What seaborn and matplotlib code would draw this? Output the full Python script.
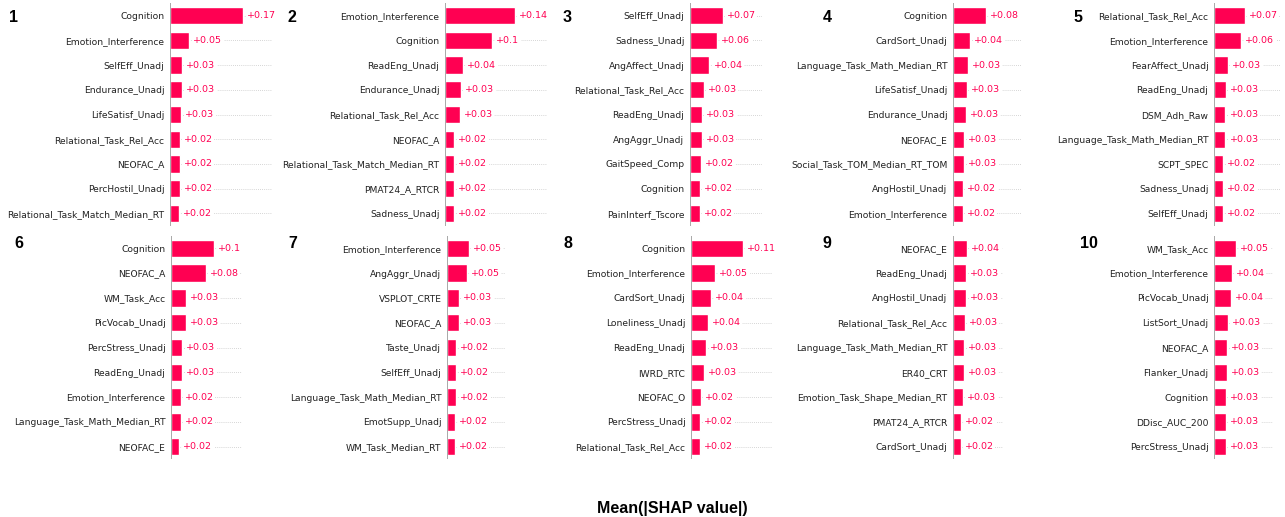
import matplotlib
matplotlib.use("Agg")
import matplotlib.pyplot as plt
import seaborn as sns
import pandas as pd

# Mean |SHAP| feature importances, top nine features per model
features_1 = ["Cognition", "Emotion_Interference", "SelfEff_Unadj", "Endurance_Unadj",
              "LifeSatisf_Unadj", "Relational_Task_Rel_Acc", "NEOFAC_A", "PercHostil_Unadj",
              "Relational_Task_Match_Median_RT"]
values_1 = [0.174, 0.046, 0.029, 0.029, 0.027, 0.024, 0.024, 0.023, 0.022]

features_2 = ["Emotion_Interference", "Cognition", "ReadEng_Unadj", "Endurance_Unadj",
              "Relational_Task_Rel_Acc", "NEOFAC_A", "Relational_Task_Match_Median_RT",
              "PMAT24_A_RTCR", "Sadness_Unadj"]
values_2 = [0.144, 0.098, 0.038, 0.034, 0.030, 0.019, 0.019, 0.019, 0.019]

features_3 = ["SelfEff_Unadj", "Sadness_Unadj", "AngAffect_Unadj", "Relational_Task_Rel_Acc",
              "ReadEng_Unadj", "AngAggr_Unadj", "GaitSpeed_Comp", "Cognition", "PainInterf_Tscore"]
values_3 = [0.072, 0.060, 0.043, 0.030, 0.027, 0.026, 0.024, 0.023, 0.021]

features_4 = ["Cognition", "CardSort_Unadj", "Language_Task_Math_Median_RT", "LifeSatisf_Unadj",
              "Endurance_Unadj", "NEOFAC_E", "Social_Task_TOM_Median_RT_TOM", "AngHostil_Unadj",
              "Emotion_Interference"]
values_4 = [0.077, 0.040, 0.034, 0.033, 0.029, 0.026, 0.026, 0.024, 0.023]

features_5 = ["Relational_Task_Rel_Acc", "Emotion_Interference", "FearAffect_Unadj", "ReadEng_Unadj",
              "DSM_Adh_Raw", "Language_Task_Math_Median_RT", "SCPT_SPEC", "Sadness_Unadj",
              "SelfEff_Unadj"]
values_5 = [0.070, 0.062, 0.032, 0.027, 0.026, 0.026, 0.021, 0.021, 0.021]

features_6 = ["Cognition", "NEOFAC_A", "WM_Task_Acc", "PicVocab_Unadj", "PercStress_Unadj",
              "ReadEng_Unadj", "Emotion_Interference", "Language_Task_Math_Median_RT", "NEOFAC_E"]
values_6 = [0.100, 0.080, 0.034, 0.034, 0.026, 0.026, 0.023, 0.022, 0.019]

features_7 = ["Emotion_Interference", "AngAggr_Unadj", "VSPLOT_CRTE", "NEOFAC_A", "Taste_Unadj",
              "SelfEff_Unadj", "Language_Task_Math_Median_RT", "EmotSupp_Unadj", "WM_Task_Median_RT"]
values_7 = [0.052, 0.047, 0.029, 0.029, 0.022, 0.022, 0.022, 0.020, 0.018]

features_8 = ["Cognition", "Emotion_Interference", "CardSort_Unadj", "Loneliness_Unadj",
              "ReadEng_Unadj", "IWRD_RTC", "NEOFAC_O", "PercStress_Unadj", "Relational_Task_Rel_Acc"]
values_8 = [0.112, 0.053, 0.044, 0.036, 0.033, 0.028, 0.022, 0.020, 0.019]

features_9 = ["NEOFAC_E", "ReadEng_Unadj", "AngHostil_Unadj", "Relational_Task_Rel_Acc",
              "Language_Task_Math_Median_RT", "ER40_CRT", "Emotion_Task_Shape_Median_RT",
              "PMAT24_A_RTCR", "CardSort_Unadj"]
values_9 = [0.036, 0.034, 0.033, 0.030, 0.028, 0.027, 0.026, 0.021, 0.020]

features_10 = ["WM_Task_Acc", "Emotion_Interference", "PicVocab_Unadj", "ListSort_Unadj",
               "NEOFAC_A", "Flanker_Unadj", "Cognition", "DDisc_AUC_200", "PercStress_Unadj"]
values_10 = [0.048, 0.038, 0.036, 0.031, 0.029, 0.028, 0.027, 0.026, 0.026]

panel_labels = ["1", "2", "3", "4", "5", "6", "7", "8", "9", "10"]
x_label = "Mean(|SHAP value|)"

panels = [(features_1, values_1), (features_2, values_2), (features_3, values_3),
          (features_4, values_4), (features_5, values_5), (features_6, values_6),
          (features_7, values_7), (features_8, values_8), (features_9, values_9),
          (features_10, values_10)]

# ---- layout (pixels on a 1285 x 517 canvas) ----
W, H = 1285, 517
left_px = [170, 445, 690, 953, 1214, 171, 447, 691, 953, 1214]
right_px = [272, 547, 762, 1022, 1281, 242, 505, 772, 1003, 1273]
x_max = [0.243, 0.211, 0.159, 0.160, 0.152, 0.164, 0.139, 0.176, 0.127, 0.128]
row_span = [(3.3, 225.7), (235.9, 459.1)]
num_x = [9, 288, 563, 823, 1073, 14, 288, 563, 823, 1080]
num_y = [18, 244]

BAR_COLOR = "#ff0052"
sns.set_style("white")


def fmt(v):
    s = f"{v:+.2f}"
    return s.rstrip("0").rstrip(".")


fig = plt.figure(figsize=(W / 100, H / 100), dpi=100)

for i, (feats, vals) in enumerate(panels):
    top, bot = row_span[i // 5]
    ax = fig.add_axes([left_px[i] / W, 1 - bot / H,
                       (right_px[i] - left_px[i]) / W, (bot - top) / H])
    df = pd.DataFrame({"feature": feats, "value": vals})
    sns.barplot(data=df, x="value", y="feature", orient="h", color=BAR_COLOR,
                saturation=1, width=0.7, ax=ax)
    ax.set_xlim(0, x_max[i])
    ax.set_ylim(len(feats) - 0.5, -0.5)

    for y, v in enumerate(vals):
        ax.axhline(y, color="#c8c8c8", lw=0.6, dashes=(1, 1.5), zorder=0)
        ax.annotate(fmt(v), xy=(v, y), xytext=(4, 0), textcoords="offset pixels",
                    ha="left", va="center", fontsize=6.8, color=BAR_COLOR,
                    bbox=dict(boxstyle="square,pad=0.15", fc="white", ec="none"))

    ax.axvline(0, color="#9a9a9a", lw=1.2, zorder=3)
    for sp in ax.spines.values():
        sp.set_visible(False)
    ax.set_xlabel("")
    ax.set_ylabel("")
    ax.set_xticks([])
    ax.tick_params(axis="y", length=0, pad=4, labelsize=6.6, labelcolor="#222222")

    fig.text(num_x[i] / W, 1 - num_y[i // 5] / H, panel_labels[i], ha="left", va="center",
             fontsize=11.5, fontweight="bold", family="Liberation Sans", color="black")

fig.text(672 / W, 1 - 508 / H, x_label, ha="center", va="center",
         fontsize=11.5, fontweight="bold", family="Liberation Sans", color="black")

fig.savefig("out.png", dpi=100, facecolor="white")
